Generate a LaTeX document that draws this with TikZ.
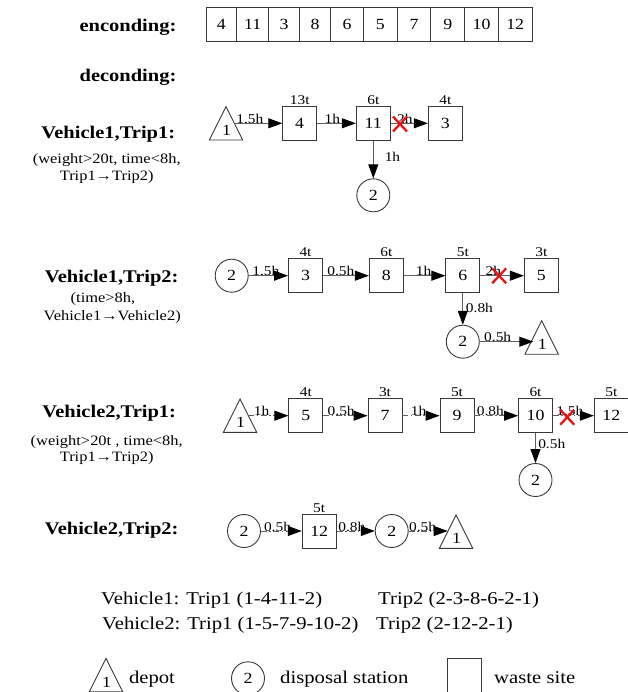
\documentclass[tikz,border=0pt]{standalone}
\usepackage{fontspec}
\setmainfont[FakeStretch=1.15]{Liberation Serif}
\usetikzlibrary{arrows.meta}

\newcommand\fLab{\fontsize{13.4}{15}\selectfont}
\newcommand\fNode{\fontsize{15.5}{17}\selectfont}
\newcommand\fHead{\fontsize{17.8}{20}\selectfont\bfseries}
\newcommand\fSub{\fontsize{14.3}{16}\selectfont}
\newcommand\fBig{\fontsize{18}{21}\selectfont}
\definecolor{cutred}{RGB}{228,20,20}
\definecolor{edgegray}{RGB}{95,95,95}

\tikzset{
  border/.style={draw=black!78, line width=0.9pt},
  site/.style={border, rectangle, minimum size=34pt, inner sep=0pt, font=\fNode},
  station/.style={border, circle, minimum size=33pt, inner sep=0pt, font=\fNode},
  cell/.style={border, rectangle, minimum height=34pt, inner sep=0pt, font=\fNode},
  wlab/.style={inner sep=1pt, font=\fLab},
  route/.style={draw=edgegray, line width=0.9pt,
    -{Triangle[length=14pt,width=10pt,color=black]}},
  route2/.style={route, dash pattern=on 6pt off 2.5pt on 1.5pt off 2.5pt},
  elab/.style={at start, anchor=base west, inner sep=0pt, font=\fLab, text=black},
  vlab/.style={anchor=base west, inner sep=0pt, font=\fLab, text=black},
  head/.style={anchor=base, inner sep=0pt, font=\fHead},
  sub/.style={anchor=base, inner sep=0pt, font=\fSub},
  plain/.style={anchor=base west, inner sep=0pt, font=\fBig},
  depot/.pic={
    \draw[border] (0,-16.7) -- (16.7,16.7) -- (-16.7,16.7) -- cycle;
    \node[inner sep=0pt, font=\fNode] (-n) at (0.5,7) {1};
    \coordinate (-l) at (-8.35,0);
    \coordinate (-r) at (8.35,0);
  },
  cut/.pic={
    \draw[cutred, line width=2.3pt] (-7,-7.5) -- (7,7.5) (-7,7.5) -- (7,-7.5);
  }
}

\begin{document}
\begin{tikzpicture}[x=1pt,y=-1pt]
\useasboundingbox (0,0) rectangle (627,692);

% ---- encoding strip ----
\node[head] (enc) at (128,31.7) {enconding:};
\node[cell, minimum width=30.8pt] (e1)  at (221.4,24.3) {4};
\node[cell, minimum width=31.6pt] (e2)  at (252.6,24.3) {11};
\node[cell, minimum width=31.2pt] (e3)  at (284.0,24.3) {3};
\node[cell, minimum width=30.8pt] (e4)  at (315.0,24.3) {8};
\node[cell, minimum width=33.2pt] (e5)  at (347.0,24.3) {6};
\node[cell, minimum width=33.6pt] (e6)  at (380.4,24.3) {5};
\node[cell, minimum width=33.6pt] (e7)  at (414.0,24.3) {7};
\node[cell, minimum width=34.0pt] (e8)  at (447.8,24.3) {9};
\node[cell, minimum width=33.6pt] (e9)  at (481.6,24.3) {10};
\node[cell, minimum width=33.6pt] (e10) at (515.2,24.3) {12};

\node[head] (dec) at (128,81.7) {deconding:};

% ---- Vehicle 1, trip 1 ----
\node[head] (h11) at (108.3,139) {Vehicle1,Trip1:};
\node[sub] (s11a) at (106.7,164) {(weight>20t, time<8h,};
\node[sub] (s11b) at (106.7,181) {Trip1→Trip2)};

\pic (v11d) at (226,123.3) {depot};
\node[site, label={[wlab]above:13t}] (v11b4) at (299.7,123.3) {4};
\node[site, label={[wlab]above:6t}] (v11b11) at (373.3,123.3) {11};
\node[site, label={[wlab]above:4t}] (v11b3) at (445.3,123.3) {3};
\node[station] (v11c2) at (373.3,195.3) {2};
\draw[route] (v11d-r) -- node[elab, xshift=1.5pt] {1.5h} (v11b4);
\draw[route] (v11b4) -- node[elab, xshift=7pt] {1h} (v11b11);
\draw[route] (v11b11) -- node[elab, xshift=6pt] {2h} (v11b3);
\draw[route] (v11b11) -- node[vlab, pos=.55, xshift=11pt] {1h} (v11c2);
\pic at (400,124) {cut};

% ---- Vehicle 1, trip 2 ----
\node[head] (h12) at (111.7,282.3) {Vehicle1,Trip2:};
\node[sub] (s12a) at (103,302.7) {(time>8h,};
\node[sub] (s12b) at (112.2,320.7) {Vehicle1→Vehicle2)};

\node[station] (v12c1) at (231.7,275.7) {2};
\node[site, label={[wlab]above:4t}] (v12b3) at (305.5,275.7) {3};
\node[site, label={[wlab]above:6t}] (v12b8) at (386.3,275.7) {8};
\node[site, label={[wlab]above:5t}] (v12b6) at (462.8,275.7) {6};
\node[site, label={[wlab]above:3t}] (v12b5) at (541.3,275.7) {5};
\node[station] (v12c2) at (462.8,341.7) {2};
\pic (v12d) at (541.7,337.5) {depot};
\draw[route] (v12c1) -- node[elab, xshift=3.3pt] {1.5h} (v12b3);
\draw[route] (v12b3) -- node[elab, xshift=4pt] {0.5h} (v12b8);
\draw[route] (v12b8) -- node[elab, xshift=11.7pt] {1h} (v12b6);
\draw[route] (v12b6) -- node[elab, xshift=5pt] {2h} (v12b5);
\draw[route] (v12b6) -- node[vlab, pos=.62, xshift=2.7pt] {0.8h} (v12c2);
\draw[route] (v12c2) -- node[elab, xshift=4pt] {0.5h} (v12c2 -| v12d-l);
\pic at (499.2,275.8) {cut};

% ---- Vehicle 2, trip 1 ----
\node[head] (h21) at (109.2,417.7) {Vehicle2,Trip1:};
\node[sub] (s21a) at (106.7,445) {(weight>20t , time<8h,};
\node[sub] (s21b) at (106.7,461) {Trip1→Trip2)};

\pic (v21d) at (240,415.7) {depot};
\node[site, label={[wlab]above:4t}] (v21b5) at (305.8,415.7) {5};
\node[site, label={[wlab]above:3t}] (v21b7) at (385,415.7) {7};
\node[site, label={[wlab]above:5t}] (v21b9) at (457,415.7) {9};
\node[site, label={[wlab]above:6t}] (v21b10) at (535.5,415.7) {10};
\node[site, label={[wlab]above:5t}] (v21b12) at (611.3,415.7) {12};
\node[station] (v21c2) at (535.5,480) {2};
\draw[route2] (v21d-r) -- node[elab, xshift=5pt] {1h} (v21b5);
\draw[route2] (v21b5) -- node[elab, xshift=4pt] {0.5h} (v21b7);
\draw[route2] (v21b7) -- node[elab, xshift=8pt] {1h} (v21b9);
\draw[route2] (v21b9) -- node[elab, xshift=2pt] {0.8h} (v21b10);
\draw[route2] (v21b10) -- node[elab, xshift=3pt] {1.5h} (v21b12);
\draw[route] (v21b10) -- node[vlab, pos=.52, xshift=2.3pt] {0.5h} (v21c2);
\pic at (567.2,417.2) {cut};

% ---- Vehicle 2, trip 2 ----
\node[head] (h22) at (111.7,534) {Vehicle2,Trip2:};

\node[station] (v22c1) at (244,531) {2};
\node[site, label={[wlab]above:5t}] (v22b12) at (319.2,531) {12};
\node[station] (v22c2) at (391.7,531) {2};
\pic (v22d) at (456,531.7) {depot};
\draw[route2] (v22c1) -- node[elab, xshift=2.6pt] {0.5h} (v22b12);
\draw[route2] (v22b12) -- node[elab, xshift=1.3pt] {0.8h} (v22c2);
\draw[route2] (v22c2) -- node[elab, xshift=0pt] {0.5h} (v22c2 -| v22d-l);

% ---- route summary ----
\node[plain] (r1a) at (101,604.5) {Vehicle1: Trip1 (1-4-11-2)};
\node[plain] (r1b) at (378,604.5) {Trip2 (2-3-8-6-2-1)};
\node[plain] (r2a) at (102,629.5) {Vehicle2: Trip1 (1-5-7-9-10-2)};
\node[plain] (r2b) at (376,629.5) {Trip2 (2-12-2-1)};

% ---- legend ----
\pic (lgd) at (106,675) {depot};
\node[plain] (lgdt) at (128.8,683.3) {depot};
\node[station] (lgc) at (248,678.3) {2};
\node[plain] (lgct) at (280,683.3) {disposal station};
\node[site] (lgs) at (464.6,675) {};
\node[plain] (lgst) at (494,683.3) {waste site};
\end{tikzpicture}
\end{document}
